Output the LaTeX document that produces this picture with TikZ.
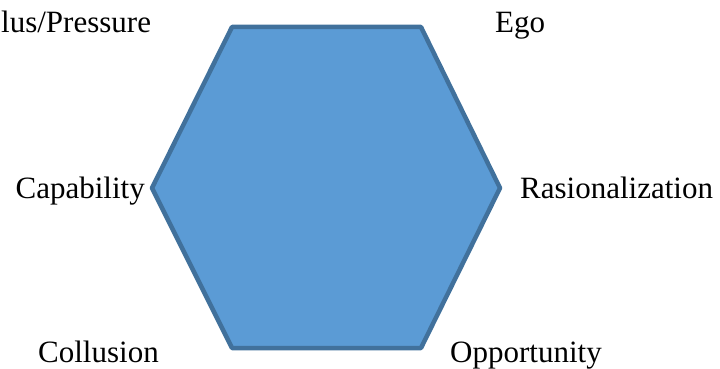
\documentclass[tikz,border=0pt]{standalone}
\usepackage{fontspec}
\setmainfont{Liberation Serif}
\usetikzlibrary{positioning,calc}

\begin{document}
\begin{tikzpicture}[
    x=1pt, y=-1pt,
    hexa/.style={draw=hexline, fill=hexfill, line width=4.5pt, line join=round},
    lbl/.style={inner sep=0pt, font=\fontsize{31}{37}\selectfont},
]
\definecolor{hexfill}{HTML}{5B9BD5}
\definecolor{hexline}{HTML}{41719C}

\useasboundingbox (0,0) rectangle (720,369);

% Six corners of the hexagon
\coordinate (tl) at (232,27);
\coordinate (tr) at (421,27);
\coordinate (rr) at (500,188);
\coordinate (br) at (421,348);
\coordinate (bl) at (232,348);
\coordinate (ll) at (152,188);

\draw[hexa] (tl) -- (tr) -- (rr) -- (br) -- (bl) -- (ll) -- cycle;

% Labels at the corners
\node[lbl, anchor=base west] (press) at (1,33) {lus/Pressure};
\node[lbl, anchor=base west] (ego) at (495,33) {Ego};
\node[lbl, anchor=base east] (capab) at (145,198) {Capability};
\node[lbl, anchor=base west] (rasio) at (520,198) {Rasionalization};
\node[lbl, anchor=base west] (collu) at (38,362) {Collusion};
\node[lbl, anchor=base west] (oppor) at (450,362) {Opportunity};

\end{tikzpicture}
\end{document}
